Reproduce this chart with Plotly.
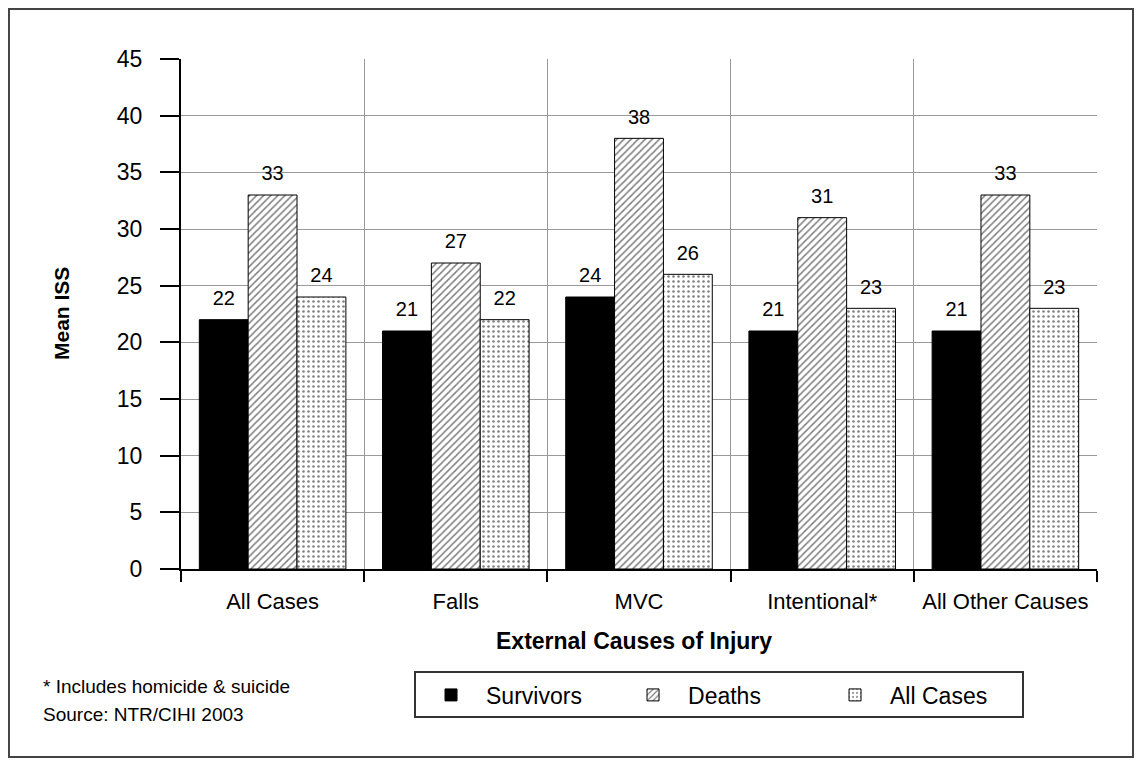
import plotly.graph_objects as go

categories = ["All Cases", "Falls", "MVC", "Intentional*", "All Other Causes"]
survivors = [22, 21, 24, 21, 21]
deaths = [33, 27, 38, 31, 33]
all_cases = [24, 22, 26, 23, 23]
series_names = ["Survivors", "Deaths", "All Cases"]
y_ticks = [0, 5, 10, 15, 20, 25, 30, 35, 40, 45]

FONT = "Liberation Sans, Arial, sans-serif"

fig = go.Figure()

styles = [
    dict(color="black", pattern=dict(shape="")),
    dict(color="white", pattern=dict(shape="/", fgcolor="black", bgcolor="white", size=5, solidity=0.3)),
    dict(color="white", pattern=dict(shape=".", fgcolor="black", bgcolor="white", size=5, solidity=0.2)),
]

for name, vals, st, g in zip(series_names, [survivors, deaths, all_cases], styles, ["a", "b", "c"]):
    fig.add_trace(go.Bar(
        name=name, x=categories, y=vals, offsetgroup=g,
        marker=dict(color=st["color"], pattern=st["pattern"], line=dict(color="black", width=1)),
        hoverinfo="skip",
    ))

for vals, g in zip([survivors, deaths, all_cases], ["a", "b", "c"]):
    fig.add_trace(go.Scatter(
        x=categories, y=vals, offsetgroup=g, mode="markers+text",
        text=[str(v) for v in vals], textposition="top center",
        textfont=dict(family=FONT, size=20, color="black"),
        marker=dict(size=14, color="rgba(0,0,0,0)"),
        showlegend=False, hoverinfo="skip", cliponaxis=False,
    ))

fig.update_layout(
    width=1135, height=758,
    paper_bgcolor="white", plot_bgcolor="white",
    margin=dict(l=173, r=46, t=51, b=197, autoexpand=False),
    barmode="group", bargap=0.2, bargroupgap=0,
    scattermode="group", scattergap=0.2,
    font=dict(family=FONT, color="black"),
    showlegend=True,
    legend=dict(
        orientation="h", x=0.2544, xanchor="left", y=-0.247, yanchor="middle",
        bordercolor="#333333", borderwidth=2, bgcolor="white",
        font=dict(family=FONT, size=23, color="black"),
        itemwidth=60,
        entrywidth=127, entrywidthmode="pixels",
        traceorder="normal",
    ),
    xaxis=dict(
        type="category", tickson="boundaries",
        showgrid=True, gridcolor="#9a9a9a", gridwidth=1,
        showline=True, linecolor="black", linewidth=2,
        ticks="outside", ticklen=11, tickwidth=1.5, tickcolor="black",
        tickfont=dict(family=FONT, size=22, color="black"),
        tickangle=0,
        ticklabelstandoff=12,
        range=[-0.5, 4.5],
    ),
    yaxis=dict(
        range=[0, 45], tickvals=y_ticks, ticktext=[str(v) for v in y_ticks],
        showgrid=True, gridcolor="#9a9a9a", gridwidth=1,
        showline=True, linecolor="black", linewidth=2, zeroline=False,
        ticks="outside", ticklen=19, tickwidth=2, tickcolor="black",
        tickfont=dict(family=FONT, size=23, color="black"),
        ticklabelstandoff=13,
    ),
    annotations=[
        dict(text="<b>External Causes of Injury</b>", xref="paper", yref="paper",
             x=0.495, y=-0.141, xanchor="center", yanchor="middle", showarrow=False,
             font=dict(family=FONT, size=23, color="black")),
        dict(text="<b>Mean ISS</b>", xref="paper", yref="paper",
             x=-0.131, y=0.5, xanchor="center", yanchor="middle", showarrow=False,
             textangle=-90, font=dict(family=FONT, size=21, color="black")),
        dict(text="* Includes homicide & suicide", xref="paper", yref="paper",
             x=-0.153, y=-0.231, xanchor="left", yanchor="middle", showarrow=False,
             font=dict(family=FONT, size=19, color="black")),
        dict(text="Source: NTR/CIHI 2003", xref="paper", yref="paper",
             x=-0.153, y=-0.286, xanchor="left", yanchor="middle", showarrow=False,
             font=dict(family=FONT, size=19, color="black")),
    ],
    shapes=[
        dict(type="rect", xref="paper", yref="paper",
             x0=-0.1878, x1=1.0393, y0=-0.3686, y1=1.098,
             line=dict(color="#444444", width=2), fillcolor="rgba(0,0,0,0)", layer="below"),
    ],
)

fig.write_html("out.html")
